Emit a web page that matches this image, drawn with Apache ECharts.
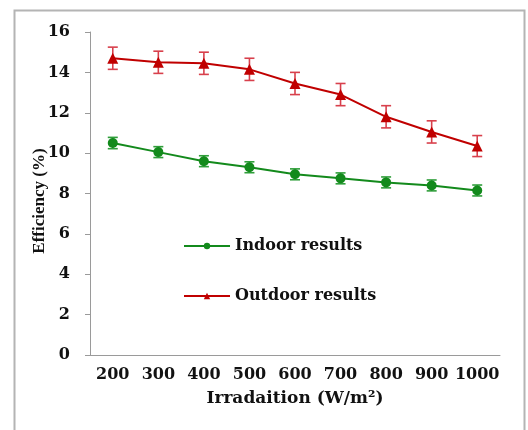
<!DOCTYPE html>
<html>
<head>
<meta charset="utf-8">
<script src="https://cdn.jsdelivr.net/npm/echarts@6/dist/echarts.min.js"></script>
<style>
  html, body { margin: 0; padding: 0; background: #fff; }
  #chart { width: 528px; height: 430px; }
</style>
</head>
<body>
<div id="chart"></div>
<script>
// Irradiation levels (W/m²)
const irradiation = ['200', '300', '400', '500', '600', '700', '800', '900', '1000'];
// Module efficiency (%) measured indoors and outdoors
const indoorEff = [10.5, 10.05, 9.6, 9.3, 8.95, 8.75, 8.55, 8.4, 8.15];
const outdoorEff = [14.7, 14.5, 14.45, 14.15, 13.45, 12.9, 11.8, 11.05, 10.35];
// Half-width of the error bars (%)
const indoorErr = [0.28, 0.27, 0.27, 0.27, 0.27, 0.27, 0.27, 0.27, 0.27];
const outdoorErr = [0.55, 0.55, 0.55, 0.55, 0.55, 0.55, 0.55, 0.55, 0.52];
const yTicks = [0, 16, 2];

const serifWide = 'DejaVu Serif';
const serif = '"Liberation Serif", "Times New Roman", serif';

const redLine = '#c00000';
const redBar = '#d8404c';
const greenLine = '#138a1c';
const greenBar = '#2f9e3a';

function errorData(values, errs) {
  return values.map((v, i) => [i, v + errs[i], v - errs[i]]);
}

function errorBarSeries(values, errs, color) {
  return {
    type: 'custom',
    data: errorData(values, errs),
    z: 1,
    silent: true,
    renderItem: function (params, api) {
      const idx = api.value(0);
      const top = api.coord([idx, api.value(1)]);
      const bot = api.coord([idx, api.value(2)]);
      const hw = 5;
      const style = { stroke: color, lineWidth: 1.6 };
      return {
        type: 'group',
        children: [
          { type: 'line', shape: { x1: top[0], y1: top[1], x2: bot[0], y2: bot[1] }, style: style },
          { type: 'line', shape: { x1: top[0] - hw, y1: top[1], x2: top[0] + hw, y2: top[1] }, style: style },
          { type: 'line', shape: { x1: bot[0] - hw, y1: bot[1], x2: bot[0] + hw, y2: bot[1] }, style: style }
        ]
      };
    }
  };
}

const chart = echarts.init(document.getElementById('chart'), null, { renderer: 'canvas' });

chart.setOption({
  backgroundColor: '#fff',
  animation: false,
  grid: { left: 90, right: 28, top: 32, bottom: 75, containLabel: false },
  graphic: [
    {
      type: 'rect',
      shape: { x: 14.5, y: 10.5, width: 510, height: 440 },
      style: { fill: 'none', stroke: '#b4b4b4', lineWidth: 2 },
      silent: true
    },
    {
      type: 'text',
      x: 40, y: 201,
      rotation: Math.PI / 2,
      style: {
        text: 'Efficiency (%)',
        font: 'bold 17px ' + serif,
        fill: '#111',
        align: 'center',
        verticalAlign: 'middle'
      },
      silent: true
    }
  ],
  legend: {
    left: 183,
    top: 238,
    padding: 0,
    orient: 'vertical',
    itemWidth: 46,
    itemHeight: 8,
    itemGap: 34,
    textStyle: { fontFamily: serifWide, fontWeight: 'bold', fontSize: 16, color: '#111' },
    data: ['Indoor results', 'Outdoor results']
  },
  xAxis: {
    type: 'category',
    data: irradiation,
    boundaryGap: true,
    name: 'Irradaition (W/m²)',
    nameLocation: 'middle',
    nameGap: 35,
    nameTextStyle: { fontFamily: serifWide, fontWeight: 'bold', fontSize: 17, color: '#111' },
    axisLine: { lineStyle: { color: '#9a9a9a', width: 1 } },
    axisTick: { show: false },
    axisLabel: { interval: 0, fontFamily: serifWide, fontWeight: 'bold', fontSize: 16, color: '#111', margin: 12 },
    splitLine: { show: false }
  },
  yAxis: {
    type: 'value',
    min: yTicks[0],
    max: yTicks[1],
    interval: yTicks[2],
    axisLine: { show: true, lineStyle: { color: '#9a9a9a', width: 1 } },
    axisTick: { show: true, length: 5, lineStyle: { color: '#9a9a9a' } },
    axisLabel: { fontFamily: serifWide, fontWeight: 'bold', fontSize: 16, color: '#111', margin: 20 },
    splitLine: { show: false }
  },
  series: [
    errorBarSeries(indoorEff, indoorErr, greenBar),
    errorBarSeries(outdoorEff, outdoorErr, redBar),
    {
      name: 'Indoor results',
      type: 'line',
      data: indoorEff,
      z: 3,
      symbol: 'circle',
      symbolSize: 10,
      itemStyle: { color: greenLine },
      lineStyle: { color: greenLine, width: 2 }
    },
    {
      name: 'Outdoor results',
      type: 'line',
      data: outdoorEff,
      z: 3,
      symbol: 'triangle',
      symbolSize: 11,
      itemStyle: { color: redLine },
      lineStyle: { color: redLine, width: 2 }
    }
  ]
});
</script>
</body>
</html>
